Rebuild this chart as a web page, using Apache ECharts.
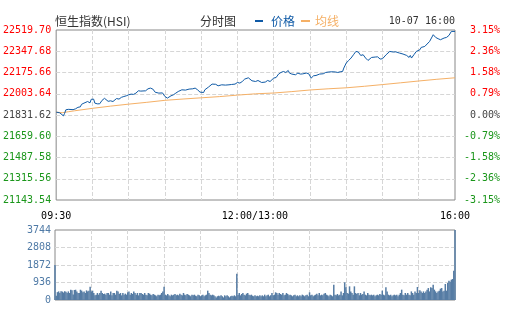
<!DOCTYPE html>
<html>
<head>
<meta charset="utf-8">
<script src="https://cdn.jsdelivr.net/npm/echarts@6/dist/echarts.min.js"></script>
<style>
  html, body { margin: 0; padding: 0; background: #fff; }
  #chart { width: 505px; height: 330px; }
</style>
</head>
<body>
<div id="chart"></div>
<script>
// HSI intraday, 10-07: minute offsets from 09:30 (lunch break collapsed, 12:00 = 13:00 = 150)
const prevClose = 21831.62;

const pricePoints = [
  [0,21854.8],[1,21853.1],[3,21849.1],[6,21824.8],[7,21845.0],[8,21873.4],[10,21877.5],[14,21875.0],
  [16,21881.5],[18,21893.7],[20,21897.7],[21,21918.0],[23,21927.7],[24,21935.9],[26,21940.7],[28,21930.2],
  [29,21958.6],[31,21960.2],[32,21927.7],[34,21922.1],[36,21922.1],[38,21950.5],[40,21966.7],[41,21954.5],
  [43,21942.3],[44,21954.5],[45,21946.4],[47,21940.7],[48,21954.5],[50,21965.0],[52,21960.2],[54,21974.8],
  [56,21981.3],[58,21986.9],[60,21995.0],[62,22000.7],[64,21998.3],[66,22008.8],[68,22027.5],[70,22025.1],
  [71,22016.9],[74,22027.5],[76,22043.7],[78,22049.4],[80,22041.3],[82,22015.3],[85,22008.8],[88,22010.4],
  [89,22021.8],[90,21981.3],[92,21968.3],[95,21986.9],[97,21995.0],[99,22008.8],[101,22021.8],[104,22035.6],
  [107,22033.2],[110,22041.3],[113,22043.7],[115,22049.4],[117,22035.6],[119,22016.9],[122,22013.7],[123,22035.6],
  [126,22057.5],[129,22081.8],[132,22080.2],[134,22068.0],[137,22076.1],[140,22073.7],[143,22076.1],[145,22078.6],
  [148,22081.8],[150,22094.8],[152,22089.9],[154,22102.9],[156,22122.4],[159,22132.9],[162,22108.6],[165,22102.9],
  [167,22111.0],[170,22094.8],[171,22102.9],[173,22098.0],[175,22111.0],[177,22102.9],[180,22130.5],[182,22135.3],
  [184,22162.9],[186,22175.9],[188,22184.0],[190,22175.9],[192,22192.1],[193,22171.0],[195,22162.9],[198,22157.2],
  [200,22171.0],[202,22162.9],[204,22164.5],[207,22171.0],[209,22165.3],[211,22130.5],[213,22149.1],[215,22151.6],
  [218,22162.9],[221,22165.3],[223,22175.9],[225,22179.1],[228,22181.6],[231,22180.0],[233,22175.9],[235,22181.6],
  [237,22184.0],[238,22211.6],[240,22252.1],[242,22273.2],[244,22292.7],[246,22319.4],[248,22346.2],[250,22341.3],
  [252,22313.7],[254,22319.4],[256,22292.7],[258,22273.2],[261,22297.5],[264,22300.8],[266,22302.4],[268,22284.5],
  [270,22287.0],[273,22319.4],[276,22346.2],[279,22341.3],[281,22343.0],[284,22333.2],[287,22325.1],[290,22313.7],
  [292,22297.5],[293,22313.7],[294,22292.7],[296,22319.4],[298,22346.2],[301,22360.0],[302,22378.6],[305,22386.7],
  [306,22400.5],[309,22427.3],[312,22481.6],[314,22459.7],[316,22449.2],[318,22441.0],[321,22454.8],[323,22459.7],
  [325,22475.9],[327,22508.3],[328,22516.0],[330,22508.3]
];

const avgPoints = [
  [0,21854.8],[5,21850.0],[10,21858.0],[15,21865.3],[30,21885.6],[45,21903.4],[60,21919.6],[75,21934.2],
  [90,21950.4],[105,21960.9],[120,21970.7],[135,21980.4],[150,21992.6],[165,22003.2],[180,22009.6],[195,22021.0],
  [210,22034.0],[225,22043.7],[240,22051.8],[255,22064.0],[270,22077.8],[285,22092.3],[300,22106.9],[315,22120.7],
  [330,22132.9]
];

// volume per minute, index = minute offset 0..330
const volumes = [
  1870,
  230,420,460,380,470,450,400,470,440,380,
  460,375,550,520,290,535,550,460,375,375,
  550,500,410,460,375,515,460,500,713,460,
  500,375,250,285,375,285,375,500,375,320,
  340,285,375,375,285,460,250,375,375,285,
  500,460,320,375,250,375,285,340,285,410,
  460,285,375,320,460,375,285,375,250,375,
  375,320,285,375,285,250,375,340,285,250,
  320,285,250,200,285,250,285,375,460,713,
  285,250,320,250,200,285,250,285,320,250,
  285,250,340,285,250,375,285,250,320,285,
  250,200,285,250,285,230,200,285,250,200,
  250,285,200,250,285,500,375,285,250,285,
  250,200,140,200,230,200,250,200,140,250,
  200,250,200,140,200,230,200,250,200,1408,
  285,375,250,320,375,285,250,340,375,285,
  250,285,230,200,250,200,230,200,250,200,
  250,200,285,200,250,285,200,250,375,250,
  285,410,375,285,375,320,285,375,250,285,
  375,320,250,285,250,200,250,285,200,250,
  200,250,200,285,250,200,250,285,200,410,
  250,285,200,250,285,340,250,375,250,285,
  250,340,375,285,250,200,285,250,200,820,
  285,250,320,250,285,460,250,375,945,680,
  375,340,730,460,375,285,730,375,320,375,
  250,375,285,320,460,285,250,375,285,250,
  285,250,285,200,250,285,250,320,285,500,
  285,250,680,460,285,250,285,200,250,285,
  250,285,200,285,375,553,285,250,375,285,
  375,285,250,460,375,285,460,375,695,375,
  515,460,375,460,375,460,553,640,460,680,
  640,820,553,460,375,460,500,605,640,460,
  500,855,500,910,1035,980,1086,1123,1570,3744
];

const priceTickLabels = ['21143.54','21315.56','21487.58','21659.60','21831.62','22003.64','22175.66','22347.68','22519.70'];
const pctTickLabels = ['-3.15%','-2.36%','-1.58%','-0.79%','0.00%','0.79%','1.58%','2.36%','3.15%'];
const volTickLabels = ['0','936','1872','2808','3744'];
const timeTickMinutes = [0, 150, 330];
const timeTickLabels = ['09:30', '12:00/13:00', '16:00'];

// price axis works in cents relative to the previous close so ticks land on whole steps
const STEP = 17202;
const VOL_STEP = 936;
const toCents = p => Math.round((p - prevClose) * 100);
const tickIndex = v => Math.round(v / STEP) + 4;
const sideColor = v => v > 0 ? '#ff0000' : (v < 0 ? '#1a961a' : '#444444');

const MONO = 'DejaVu Sans Mono';
const CJK = 'Noto Sans CJK SC';
const PRICE_COLOR = '#0f5aa6';
const AVG_COLOR = '#f5b066';
const VOL_COLOR = '#567ca4';
const GRID_LINE = { color: '#d6d6d6', width: 1, type: [4, 2] };

const chart = echarts.init(document.getElementById('chart'), null, { renderer: 'canvas' });

chart.setOption({
  animation: false,
  backgroundColor: '#ffffff',
  grid: [
    { left: 55, right: 50, top: 30, height: 170, show: true, borderColor: '#888888', borderWidth: 1, backgroundColor: 'transparent' },
    { left: 55, right: 50, top: 230, height: 70, show: true, borderColor: '#888888', borderWidth: 1, backgroundColor: 'transparent' }
  ],
  xAxis: [
    {
      type: 'value', gridIndex: 0, min: 0, max: 330, interval: 30,
      axisLine: { show: false }, axisTick: { show: false },
      splitLine: { show: true, showMinLine: false, showMaxLine: false, lineStyle: GRID_LINE },
      axisLabel: {
        margin: 11, fontFamily: MONO, fontSize: 10, color: '#000000',
        formatter: v => {
          const i = timeTickMinutes.indexOf(v);
          if (i < 0) return '';
          return v === 150 ? '{mid|' + timeTickLabels[i] + '}' : timeTickLabels[i];
        },
        rich: { mid: { fontFamily: MONO, fontSize: 10, color: '#000000', padding: [0, 0, 0, 35] } }
      }
    },
    {
      type: 'value', gridIndex: 1, min: 0, max: 330, interval: 30,
      axisLine: { show: false }, axisTick: { show: false }, axisLabel: { show: false },
      splitLine: { show: true, showMinLine: false, showMaxLine: false, lineStyle: GRID_LINE }
    }
  ],
  yAxis: [
    {
      type: 'value', gridIndex: 0, min: -4 * STEP, max: 4 * STEP, interval: STEP,
      axisLine: { show: false }, axisTick: { show: false },
      splitLine: { show: true, showMinLine: false, showMaxLine: false, lineStyle: GRID_LINE },
      axisLabel: {
        margin: 5, fontFamily: MONO, fontSize: 10,
        formatter: v => priceTickLabels[tickIndex(v)],
        color: v => sideColor(v)
      }
    },
    {
      type: 'value', gridIndex: 0, position: 'right', min: -4 * STEP, max: 4 * STEP, interval: STEP,
      axisLine: { show: false }, axisTick: { show: false }, splitLine: { show: false },
      axisLabel: {
        margin: 45, align: 'right', fontFamily: MONO, fontSize: 10,
        formatter: v => pctTickLabels[tickIndex(v)],
        color: v => sideColor(v)
      }
    },
    {
      type: 'value', gridIndex: 1, min: 0, max: 4 * VOL_STEP, interval: VOL_STEP,
      axisLine: { show: false }, axisTick: { show: false },
      splitLine: { show: true, showMinLine: false, showMaxLine: false, lineStyle: GRID_LINE },
      axisLabel: {
        margin: 4, fontFamily: MONO, fontSize: 10, color: '#4f7aa6',
        formatter: v => volTickLabels[Math.round(v / VOL_STEP)]
      }
    }
  ],
  series: [
    {
      name: '均线', type: 'line', xAxisIndex: 0, yAxisIndex: 0,
      data: avgPoints.map(([m, p]) => [m, toCents(p)]),
      showSymbol: false, lineStyle: { color: AVG_COLOR, width: 1 }, z: 3
    },
    {
      name: '价格', type: 'line', xAxisIndex: 0, yAxisIndex: 0,
      data: pricePoints.map(([m, p]) => [m, toCents(p)]),
      showSymbol: false, lineStyle: { color: PRICE_COLOR, width: 1 }, z: 4
    },
    {
      name: '成交量', type: 'bar', xAxisIndex: 1, yAxisIndex: 2,
      data: volumes.map((v, m) => [m, v]),
      barWidth: 1.5, itemStyle: { color: VOL_COLOR }
    }
  ],
  graphic: [
    { type: 'text', left: 55, top: 15, style: { text: '恒生指数(HSI)', font: '12px "' + CJK + '"', fill: '#333333' } },
    { type: 'text', left: 200, top: 15, style: { text: '分时图', font: '12px "' + CJK + '"', fill: '#333333' } },
    { type: 'rect', shape: { x: 255, y: 20, width: 8, height: 2 }, style: { fill: PRICE_COLOR } },
    { type: 'text', left: 271, top: 15, style: { text: '价格', font: '12px "' + CJK + '"', fill: PRICE_COLOR } },
    { type: 'rect', shape: { x: 301, y: 20, width: 9, height: 2 }, style: { fill: AVG_COLOR } },
    { type: 'text', left: 315, top: 15, style: { text: '均线', font: '12px "' + CJK + '"', fill: AVG_COLOR } },
    { type: 'text', right: 50, top: 16, style: { text: '10-07 16:00', font: '10px "' + MONO + '"', fill: '#333333' } }
  ]
});
</script>
</body>
</html>
